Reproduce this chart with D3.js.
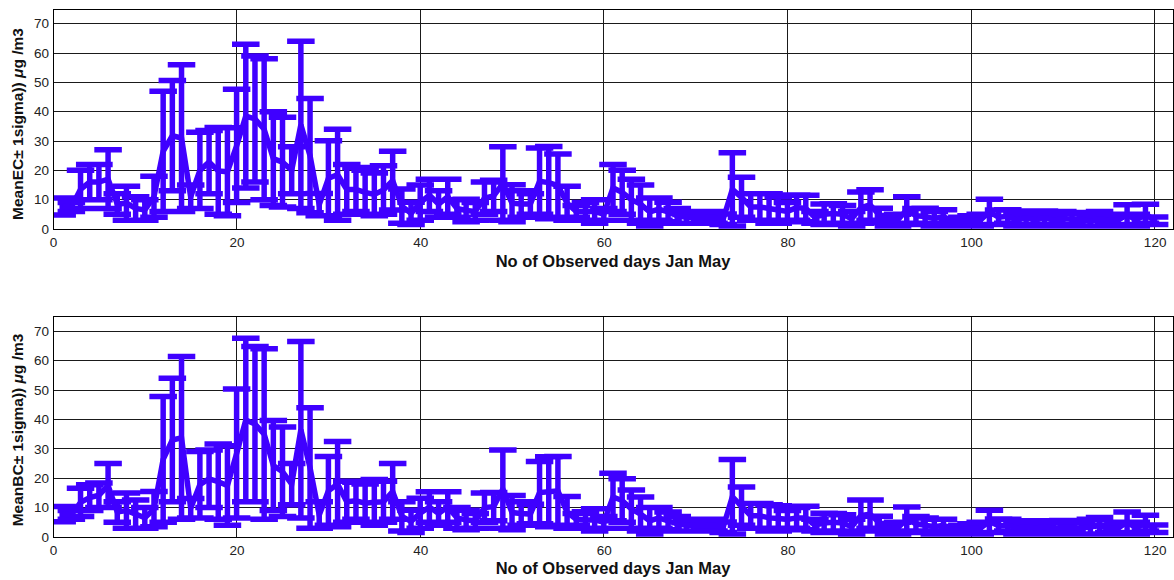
<!DOCTYPE html>
<html>
<head>
<meta charset="utf-8">
<script src="https://cdn.jsdelivr.net/npm/d3@7"></script>
<style>
  html, body { margin: 0; padding: 0; background: #fff; }
  svg { display: block; font-family: "Liberation Sans", Arial, Helvetica, sans-serif; }
</style>
</head>
<body>
<svg id="chart" width="1174" height="580"></svg>
<script>
// Observation index (day 1 .. 120, January to May)
const days = d3.range(1, 121);

// Daily mean EC and its standard deviation (µg/m3)
const ecMean = [
  7.7, 7.5, 13.5, 16, 16, 17, 8.5, 8.8, 7, 6.5,
  11, 26.5, 31.8, 31, 11, 20, 22.8, 19.8, 19.5, 28.3,
  38.5, 37.5, 34, 24, 22.8, 20, 35.5, 25, 8.3, 17.3,
  18.5, 13.5, 13.5, 12.5, 11.8, 13.3, 16.5, 7.8, 5.3, 9,
  11.5, 8.5, 11, 7, 6.3, 6, 10.5, 11.3, 15.5, 8.8,
  8.5, 8.5, 16.3, 15.8, 14.8, 8.8, 6, 6, 6, 5,
  14, 12.5, 10, 8.5, 5.8, 6.8, 5.8, 4.5, 4, 3.8,
  3.8, 4, 3.3, 13.5, 10.8, 7.5, 7.5, 7, 6.5, 6,
  7.3, 7, 4, 5, 5.3, 5, 3.5, 7.3, 8.2, 4.8,
  2.8, 3, 6.5, 4.5, 4.3, 3.5, 4.3, 2.3, 2.5, 3,
  3, 5.8, 4, 4.3, 3, 3.8, 3, 3.8, 3, 3.5,
  3.3, 3.3, 2.5, 3.5, 2.8, 3, 4.9, 3, 5.2, 2.8
];
const ecSigma = [
  2.9, 1.5, 6.5, 6, 6, 10, 3.5, 5.8, 4, 3.5,
  7, 20.5, 18.8, 25, 4, 13, 10.8, 14.8, 15, 19.3,
  24.5, 21.5, 24, 16, 15.3, 8, 28.5, 19.5, 3.8, 12.8,
  15.5, 8.5, 7.5, 7.5, 7.3, 8.3, 10, 5.8, 3.8, 6,
  5.5, 4.5, 6, 3, 3.8, 3, 5.5, 5.3, 12.5, 6.3,
  4.5, 3.5, 11.3, 12.3, 10.8, 5.8, 2, 3, 4, 2,
  8, 7.5, 7, 6.5, 4.8, 3.8, 3.3, 2.5, 2, 1.8,
  1.3, 2, 1.8, 12.5, 6.8, 4.5, 4.5, 5, 4.5, 3,
  4.3, 4.5, 2, 3.5, 3.3, 3, 2.5, 5.3, 5.2, 2.3,
  1.8, 2, 4.5, 2.5, 2.8, 2.5, 2.3, 1.3, 1.5, 1.5,
  2, 4.3, 2.5, 2.3, 2, 2.3, 2, 2.3, 2, 2.5,
  1.8, 2.3, 1.5, 2.5, 1.3, 2, 3.4, 2, 3.2, 1.3
];

// Daily mean BC and its standard deviation (µg/m3)
const bcMean = [
  7.8, 7.5, 11.8, 13.4, 14.2, 17.5, 8.5, 9, 7.8, 6.5,
  9.5, 26.4, 33, 33.7, 9.8, 17.8, 19.8, 18.8, 17.5, 28.4,
  39.8, 38.4, 35, 24.3, 22.2, 18, 36.5, 23.5, 7.5, 15.7,
  18, 12, 12.3, 11.5, 11.8, 12, 15.5, 7, 5.3, 8.1,
  10.2, 8, 10.2, 6.5, 5.8, 5.5, 10, 10.3, 16.3, 8.3,
  8, 7.8, 15.1, 15.4, 15.7, 8.4, 6, 5.8, 5.8, 5,
  13.6, 12.4, 9.5, 7.8, 5.5, 6.5, 5.5, 4.5, 4, 3.8,
  3.8, 4, 3.3, 13.7, 10.5, 7.2, 7.2, 6.5, 6.3, 6,
  6.5, 6.5, 4, 4.8, 5, 4.8, 3.5, 7.3, 7.8, 4.8,
  2.8, 3, 6.1, 4.5, 4, 3.5, 4, 2.3, 2.5, 3,
  3, 5.3, 3.8, 4, 3, 3.5, 3, 3.5, 3, 3.3,
  3.3, 3, 3.5, 3.8, 2.8, 3, 5, 3, 4.7, 2.8
];
const bcSigma = [
  2.6, 1.5, 4.8, 4.4, 4.2, 7.5, 3.5, 6, 4.8, 3.5,
  6, 21.4, 21, 27.7, 3.3, 11.3, 9.8, 12.8, 13.5, 21.9,
  27.8, 26.4, 29, 15.3, 15.2, 7, 30, 20.5, 4.5, 11.7,
  14.5, 7, 6.3, 6.5, 7.8, 7, 9.5, 5, 3.8, 5.1,
  5.2, 4, 5.2, 3.5, 3.3, 2.5, 5, 4.8, 13.3, 5.8,
  4, 3.3, 10.6, 11.9, 11.7, 5.4, 2, 2.8, 3.8, 2,
  8.1, 7.4, 6.5, 5.8, 4.5, 3.5, 3, 2.5, 2, 1.8,
  1.3, 2, 1.8, 12.7, 6.5, 4.2, 4.2, 4.5, 4.3, 3,
  3.5, 4, 2, 3.3, 3, 2.8, 2.5, 5.3, 4.8, 2.3,
  1.8, 2, 4.1, 2.5, 2.5, 2.5, 2, 1.3, 1.5, 1.5,
  2, 3.8, 2.3, 2, 2, 2, 2, 2, 2, 2.3,
  1.8, 2, 2.5, 2.8, 1.3, 2, 3.5, 2, 2.7, 1.3
];

const xTicks = [0, 20, 40, 60, 80, 100, 120];
const yTicks = [0, 10, 20, 30, 40, 50, 60, 70];
const xTitle = "No of Observed days Jan May";
const yTitles = [
  ["MeanEC\u00b1 1sigma)) ", "\u03bc", "g /m3"],
  ["MeanBC\u00b1 1sigma)) ", "\u03bc", "g /m3"]
];

const svg = d3.select("#chart");
const color = "#3f00ff";
const left = 53, right = 1173;
const capHalf = 1.2; // half-width of the error-bar caps, in days

const x = d3.scaleLinear().domain([0, 122]).range([left, right]);

const panels = [
  { top: 9, bottom: 229, mean: ecMean, sigma: ecSigma, title: yTitles[0], titleY: 124, xTitleY: 267 },
  { top: 316.5, bottom: 537, mean: bcMean, sigma: bcSigma, title: yTitles[1], titleY: 430, xTitleY: 574 }
];

panels.forEach((p, i) => {
  const y = d3.scaleLinear().domain([0, 75]).range([p.bottom, p.top]);
  const g = svg.append("g");

  // grid
  g.append("g").selectAll("line").data(xTicks).join("line")
    .attr("x1", d => x(d)).attr("x2", d => x(d))
    .attr("y1", p.top).attr("y2", p.bottom)
    .attr("stroke", "#1a1a1a").attr("stroke-width", 1).attr("shape-rendering", "crispEdges");
  g.append("g").selectAll("line").data(yTicks).join("line")
    .attr("x1", left).attr("x2", right)
    .attr("y1", d => y(d)).attr("y2", d => y(d))
    .attr("stroke", "#1a1a1a").attr("stroke-width", 1).attr("shape-rendering", "crispEdges");

  // data, clipped to the axes box
  const clipId = "clip" + i;
  svg.append("clipPath").attr("id", clipId).append("rect")
    .attr("x", left).attr("y", p.top).attr("width", right - left).attr("height", p.bottom - p.top);
  const plot = g.append("g").attr("clip-path", `url(#${clipId})`);

  const rows = days.map((d, k) => ({ d, m: p.mean[k], s: p.sigma[k] }));

  const path = d3.path();
  rows.forEach(r => {
    const lo = r.m - r.s, hi = r.m + r.s;
    path.moveTo(x(r.d), y(lo)); path.lineTo(x(r.d), y(hi));
    path.moveTo(x(r.d - capHalf), y(hi)); path.lineTo(x(r.d + capHalf), y(hi));
    path.moveTo(x(r.d - capHalf), y(lo)); path.lineTo(x(r.d + capHalf), y(lo));
  });
  plot.append("path").attr("d", path.toString())
    .attr("fill", "none").attr("stroke", color).attr("stroke-width", 5.5)
    .attr("stroke-linecap", "square");

  const line = d3.line().x(r => x(r.d)).y(r => y(r.m));
  plot.append("path").datum(rows).attr("d", line)
    .attr("fill", "none").attr("stroke", color).attr("stroke-width", 5.5)
    .attr("stroke-linejoin", "miter");

  // frame
  g.append("rect").attr("x", left).attr("y", p.top)
    .attr("width", right - left).attr("height", p.bottom - p.top)
    .attr("fill", "none").attr("stroke", "#000").attr("stroke-width", 1).attr("shape-rendering", "crispEdges");

  // tick labels
  const ax = g.append("g").attr("transform", `translate(0,${p.bottom})`)
    .call(d3.axisBottom(x).tickValues(xTicks).tickSize(0).tickPadding(8).tickFormat(d3.format("d")));
  const ay = g.append("g").attr("transform", `translate(${left},0)`)
    .call(d3.axisLeft(y).tickValues(yTicks).tickSize(0).tickPadding(4).tickFormat(d3.format("d")));
  [ax, ay].forEach(a => {
    a.select(".domain").remove();
    a.selectAll("text").attr("font-size", 13.5).attr("fill", "#222")
      .attr("font-family", "'Liberation Sans', Arial, sans-serif");
  });

  // axis titles
  g.append("text").attr("x", (left + right) / 2).attr("y", p.xTitleY)
    .attr("text-anchor", "middle").attr("font-size", 16.5).attr("font-weight", "bold")
    .attr("fill", "#111").text(xTitle);

  const yt = g.append("text")
    .attr("transform", `translate(23,${p.titleY}) rotate(-90)`)
    .attr("text-anchor", "middle").attr("font-size", 15.5).attr("font-weight", "bold")
    .attr("fill", "#111");
  yt.append("tspan").text(p.title[0]);
  yt.append("tspan").attr("font-style", "italic").text(p.title[1]);
  yt.append("tspan").text(p.title[2]);
});
</script>
</body>
</html>
